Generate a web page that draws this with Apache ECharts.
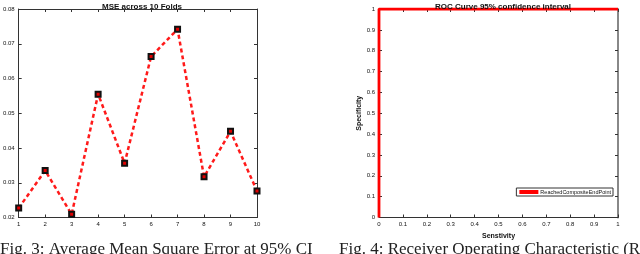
<!DOCTYPE html>
<html><head><meta charset="utf-8">
<script src="https://cdn.jsdelivr.net/npm/echarts@6/dist/echarts.min.js"></script>
<style>html,body{margin:0;padding:0;background:#fff}#c{width:640px;height:254px}</style>
</head><body><div id="c"></div>
<script>
const folds = [1,2,3,4,5,6,7,8,9,10];
const mse = [0.0227,0.0335,0.0209,0.0555,0.0356,0.0663,0.0742,0.0317,0.0448,0.0276];
const rocX = [0,0,1];
const rocY = [0,1,1];
const mseTicks = [0.02,0.03,0.04,0.05,0.06,0.07,0.08];
const rocTicks = [0,0.1,0.2,0.3,0.4,0.5,0.6,0.7,0.8,0.9,1];
const titles = ['MSE across 10 Folds','ROC Curve 95% confidence interval'];
const captions = ['Fig. 3: Average Mean Square Error at 95% CI','Fig. 4: Receiver Operating Characteristic (ROC) Curve'];
const legendName = 'ReachedCompositeEndPoint';
const xName = 'Senstivity', yName = 'Specificity';

const FF = 'Liberation Sans, Arial, sans-serif';
const tickFont = {fontSize:6, color:'#111', fontFamily:FF};
function axis(extra){
  return Object.assign({
    type:'value', axisLine:{show:true, onZero:false, lineStyle:{color:'#333',width:1}},
    axisTick:{show:true, inside:true, length:3, lineStyle:{color:'#333'}},
    splitLine:{show:false}, axisLabel:Object.assign({margin:4}, tickFont)
  }, extra);
}
const chart = echarts.init(document.getElementById('c'), null, {renderer:'canvas'});
const gL = {left:17, top:9, width:240, height:208.5};
const gR = {left:379, top:9, width:239, height:208.5};
chart.setOption({
  animation:false,
  title:[
    {text:titles[0], left:137, top:-2, textAlign:'center', textStyle:{fontSize:8, fontWeight:'bold', fontFamily:FF, color:'#111'}},
    {text:titles[1], left:498, top:-2, textAlign:'center', textStyle:{fontSize:8, fontWeight:'bold', fontFamily:FF, color:'#111'}}
  ],
  grid:[gL, gR],
  xAxis:[
    axis({gridIndex:0, min:1, max:10, interval:1, axisLabel:Object.assign({margin:4, formatter:v=>String(v)}, tickFont)}),
    axis({gridIndex:0, min:1, max:10, interval:1, position:'top', axisLabel:{show:false}}),
    axis({gridIndex:1, min:0, max:1, interval:0.1, name:xName, nameLocation:'middle', nameGap:6,
      nameTextStyle:{fontSize:7, fontWeight:'bold', fontFamily:FF, color:'#111', verticalAlign:'top', padding:0, lineHeight:8},
      axisLabel:Object.assign({margin:4, formatter:v=>String(+v.toFixed(1))}, tickFont)}),
    axis({gridIndex:1, min:0, max:1, interval:0.1, position:'top', axisLabel:{show:false}})
  ],
  yAxis:[
    axis({gridIndex:0, min:0.02, max:0.08, interval:0.01, axisLabel:Object.assign({margin:4, formatter:v=>v.toFixed(2)}, tickFont)}),
    axis({gridIndex:0, min:0.02, max:0.08, interval:0.01, position:'right', axisLabel:{show:false}}),
    axis({gridIndex:1, min:0, max:1, interval:0.1, name:yName, nameLocation:'middle', nameGap:12, nameRotate:90,
      nameTextStyle:{fontSize:7, fontWeight:'bold', fontFamily:FF, color:'#111'},
      axisLabel:Object.assign({margin:4, formatter:v=>String(+v.toFixed(1))}, tickFont)}),
    axis({gridIndex:1, min:0, max:1, interval:0.1, position:'right', axisLabel:{show:false}, axisLine:{show:true, onZero:false, lineStyle:{color:'#888', width:2}}})
  ],
  legend:{
    data:[legendName], right:27, top:188, orient:'horizontal',
    backgroundColor:'#fff', borderColor:'#333', borderWidth:1, borderRadius:0, padding:[1,2,1,3],
    itemWidth:19, itemHeight:4, itemGap:2,
    textStyle:{fontSize:5.5, fontFamily:FF, color:'#111', padding:[0,0,0,-3]},
    icon:'rect'
  },
  series:[
    {type:'line', name:'MSE', xAxisIndex:0, yAxisIndex:0, data:folds.map((f,i)=>[f,mse[i]]),
      lineStyle:{color:'#ff1a1a', width:2.5, type:[4,3]},
      symbol:'rect', symbolSize:5, itemStyle:{color:'#e00000', borderColor:'#111', borderWidth:2}, z:3},
    {type:'line', name:legendName, xAxisIndex:2, yAxisIndex:2, data:rocX.map((x,i)=>[x,rocY[i]]),
      lineStyle:{color:'#ff0000', width:2.8}, itemStyle:{color:'#ff0000'}, symbol:'none', z:5}
  ],
  graphic:[
    {type:'text', left:0, top:241, style:{text:captions[0], fontSize:17, fontFamily:'Liberation Serif, Times New Roman, serif', fill:'#222'}},
    {type:'text', left:339, top:241, style:{text:captions[1], fontSize:17, fontFamily:'Liberation Serif, Times New Roman, serif', fill:'#222'}}
  ]
});
</script></body></html>
